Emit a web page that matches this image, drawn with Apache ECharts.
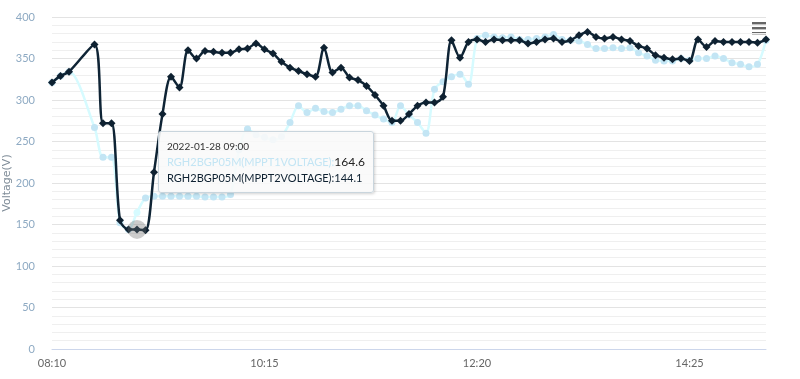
<!DOCTYPE html>
<html><head><meta charset="utf-8">
<script src="https://cdn.jsdelivr.net/npm/echarts/dist/echarts.min.js"></script>
<style>html,body{margin:0;padding:0;background:#fff}#c{width:800px;height:379px}</style>
</head><body><div id="c"></div>
<script>
const times = ['08:10','08:15','08:20','08:35','08:40','08:45','08:50','08:55','09:00','09:05',
'09:10','09:15','09:20','09:25','09:30','09:35','09:40','09:45','09:50','09:55',
'10:00','10:05','10:10','10:15','10:20','10:25','10:30','10:35','10:40','10:45',
'10:50','10:55','11:00','11:05','11:10','11:15','11:20','11:25','11:30','11:35',
'11:40','11:45','11:50','11:55','12:00','12:05','12:10','12:15','12:20','12:25',
'12:30','12:35','12:40','12:45','12:50','12:55','13:00','13:05','13:10','13:15',
'13:20','13:25','13:30','13:35','13:40','13:45','13:50','13:55','14:00','14:05',
'14:10','14:15','14:20','14:25','14:30','14:35','14:40','14:45','14:50','14:55',
'15:00','15:05','15:10'];
const mppt1 = [321,329,334,267,231,231,152,144,164.6,182,
184,184,184,184,184,184,183,183,183,186,
240,265,258,255,252,256,273,293,285,290,
286,285,289,293,293,287,282,277,273,293,
282,273,260,313,322,328,331,319,374,378,
376,375,376,373,373,374,376,379,373,372,
371,367,362,362,363,362,363,357,353,348,
347,347,350,348,350,350,353,350,345,343,
340,343,372];
const mppt2 = [321,329,334,367,272,272,155,144,144.1,143,
213,283,328,315,360,350,359,358,357,357,
361,362,368,361,356,346,339,335,331,328,
363,333,339,327,324,317,306,293,275,275,
283,293,297,297,304,372,351,370,373,370,
373,372,372,372,368,370,373,374,370,372,
378,382,376,374,376,373,371,365,362,354,
351,349,350,347,373,364,371,370,370,370,
370,369,373];
const seriesNames = ['RGH2BGP05M(MPPT1VOLTAGE)','RGH2BGP05M(MPPT2VOLTAGE)'];
const tipDate = '2022-01-28';
const tipTime = '09:00';
const yMin = 0, yMax = 400, yStep = 50;
const xStep = 125;

const toMin = t => { const p = t.split(':'); return (+p[0])*60 + (+p[1]); };
const base = toMin(times[0]);
const xOf = t => toMin(t) - base;
const fmt = m => { const v = m + base; const h = Math.floor(v/60), mm = v%60; return String(h).padStart(2,'0') + ':' + String(mm).padStart(2,'0'); };
const LIGHT = '#c3e5f4', DARK = '#0e2131';
const tipIdx = times.indexOf(tipTime);

const chart = echarts.init(document.getElementById('c'));
chart.setOption({
  animation: false,
  textStyle: { fontFamily: 'Lato, "DejaVu Sans", sans-serif' },
  grid: { left: 52, right: 34, top: 17, bottom: 30, containLabel: false, outerBoundsMode: 'none' },
  graphic: [{
    type: 'group', right: 34, top: 22,
    children: [
      { type: 'rect', shape: { x: 0, y: 0, width: 14, height: 2.4 }, style: { fill: '#666' } },
      { type: 'rect', shape: { x: 0, y: 5, width: 14, height: 2.4 }, style: { fill: '#666' } },
      { type: 'rect', shape: { x: 0, y: 10, width: 14, height: 2.4 }, style: { fill: '#666' } }
    ]
  }],
  tooltip: {
    trigger: 'axis',
    axisPointer: { type: 'none' },
    alwaysShowContent: true,
    position: [158, 131],
    backgroundColor: 'rgba(249,249,249,0.88)',
    borderColor: '#c9d5dd',
    borderWidth: 1,
    padding: [7, 8, 6, 8],
    extraCssText: 'box-shadow:1px 1px 3px rgba(0,0,0,0.18);border-radius:3px;',
    formatter: function () {
      const i = tipIdx;
      return '<div style="font-family:Lato,sans-serif;font-size:10px;color:#333;line-height:15px">' + tipDate + ' ' + times[i] + '</div>' +
        '<div style="font-family:Lato,sans-serif;font-size:11px;line-height:16px"><span style="color:' + LIGHT + '">' + seriesNames[0] + ':</span><span style="color:#222;font-size:12px">' + mppt1[i] + '</span></div>' +
        '<div style="font-family:Lato,sans-serif;font-size:11px;line-height:16px;color:' + DARK + '">' + seriesNames[1] + ':' + mppt2[i] + '</div>';
    }
  },
  xAxis: {
    type: 'value', min: 0, max: xOf(times[times.length - 1]), interval: xStep,
    axisLine: { show: true, lineStyle: { color: '#ccd6eb', width: 1 } },
    axisTick: { show: false },
    splitLine: { show: false },
    axisLabel: { color: '#666', fontSize: 11, margin: 9, showMaxLabel: false, formatter: v => fmt(v) }
  },
  yAxis: {
    type: 'value', min: yMin, max: yMax, interval: yStep,
    name: 'Voltage(V)', nameLocation: 'middle', nameGap: 39, nameRotate: 90, nameMoveOverlap: false,
    nameTextStyle: { color: '#7f8c98', fontSize: 11, fontFamily: '"DejaVu Sans", sans-serif' },
    axisLine: { show: false }, axisTick: { show: false },
    axisLabel: { color: '#8eaac3', fontSize: 11, margin: 17 },
    splitLine: { lineStyle: { color: '#e3e3e3' } },
    minorTick: { show: false, splitNumber: 5 },
    minorSplitLine: { show: true, lineStyle: { color: '#efefef' } }
  },
  series: [
    {
      name: seriesNames[0], type: 'line', smooth: 0.3,
      data: times.map((t, i) => [xOf(t), mppt1[i]]),
      symbol: 'circle', symbolSize: 7, showAllSymbol: true,
      lineStyle: { color: LIGHT, width: 2.5 },
      itemStyle: { color: LIGHT },
      emphasis: { scale: false }, z: 2
    },
    {
      name: seriesNames[1], type: 'line', smooth: 0.3,
      data: times.map((t, i) => [xOf(t), mppt2[i]]),
      symbol: 'diamond', symbolSize: 8, showAllSymbol: true,
      lineStyle: { color: DARK, width: 2.5 },
      itemStyle: { color: DARK },
      emphasis: { scale: false }, z: 3,
      markPoint: {
        silent: true,
        symbol: 'circle', symbolSize: 19,
        itemStyle: { color: 'rgba(110,110,110,0.35)' },
        label: { show: false },
        data: [{ coord: [xOf(tipTime), mppt2[tipIdx]] }]
      }
    }
  ]
});
chart.dispatchAction({ type: 'showTip', seriesIndex: 1, dataIndex: tipIdx });
</script>
</body></html>
